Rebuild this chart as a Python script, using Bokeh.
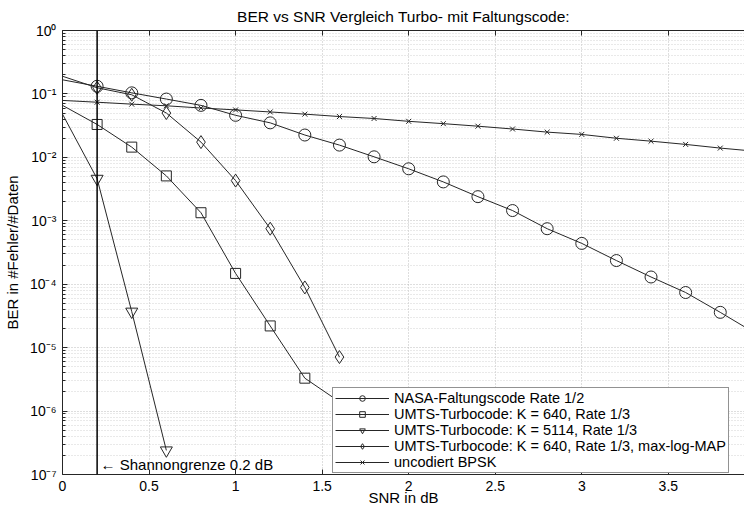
from bokeh.plotting import figure
from bokeh.models import (FixedTicker, CustomJSTickFormatter, Legend, LegendItem,
                          LinearAxis, Label, Span)
from bokeh.embed import file_html
from bokeh.resources import INLINE

# ---- data ----
snr_nasa = [0.0, 0.2, 0.4, 0.6, 0.8, 1.0, 1.2, 1.4, 1.6, 1.8, 2.0,
            2.2, 2.4, 2.6, 2.8, 3.0, 3.2, 3.4, 3.6, 3.8, 4.0]
ber_nasa = [0.167, 0.132, 0.104, 0.083, 0.066, 0.046, 0.035, 0.0225, 0.0156, 0.0102, 0.0066,
            0.0041, 0.0024, 0.00145, 0.00075, 0.00044, 0.000236, 0.00013, 0.000074, 0.000036, 0.000017]

snr_umts640 = [0.0, 0.2, 0.4, 0.6, 0.8, 1.0, 1.2, 1.4, 1.6]
ber_umts640 = [0.066, 0.033, 0.0145, 0.0051, 0.00134, 1.48e-4, 2.2e-5, 3.3e-6, 1.4e-6]

snr_umts5114 = [0.0, 0.2, 0.4, 0.6]
ber_umts5114 = [0.048, 0.0046, 3.7e-5, 2.4e-7]

snr_maxlog = [0.0, 0.2, 0.4, 0.6, 0.8, 1.0, 1.2, 1.4, 1.6]
ber_maxlog = [0.19, 0.125, 0.097, 0.050, 0.0174, 0.0043, 7.5e-4, 8.9e-5, 7.1e-6]

snr_bpsk = [0.0, 0.2, 0.4, 0.6, 0.8, 1.0, 1.2, 1.4, 1.6, 1.8, 2.0,
            2.2, 2.4, 2.6, 2.8, 3.0, 3.2, 3.4, 3.6, 3.8, 4.0]
ber_bpsk = [0.079, 0.074, 0.069, 0.065, 0.060, 0.056, 0.052, 0.048, 0.044, 0.041, 0.037,
            0.034, 0.031, 0.028, 0.025, 0.023, 0.020, 0.018, 0.016, 0.014, 0.0125]

shannon_limit = 0.2

x_ticks = [0, 0.5, 1, 1.5, 2, 2.5, 3, 3.5]
x_tick_labels = ["0", "0.5", "1", "1.5", "2", "2.5", "3", "3.5"]
y_exponents = [-7, -6, -5, -4, -3, -2, -1, 0]

labels = ["NASA-Faltungscode Rate 1/2",
          "UMTS-Turbocode: K = 640, Rate 1/3",
          "UMTS-Turbocode: K = 5114, Rate 1/3",
          "UMTS-Turbocode: K = 640, Rate 1/3, max-log-MAP",
          "uncodiert BPSK"]

FONT = "Liberation Sans"
INK = "#262626"

p = figure(width=744, height=508, y_axis_type="log",
           x_range=(0, 3.94), y_range=(1e-7, 1),
           output_backend="svg", toolbar_location=None,
           min_border_left=62, min_border_right=0, min_border_top=30, min_border_bottom=32,
           title="BER vs SNR Vergleich Turbo- mit Faltungscode:")
p.outline_line_color = None
p.background_fill_color = "white"

p.title.align = "center"
p.title.vertical_align = "top"
p.title.text_font = FONT
p.title.text_font_size = "15.5px"
p.title.text_font_style = "normal"
p.title.text_color = "black"
p.title.standoff = 8

# ticks
y_major = [10.0 ** e for e in y_exponents]
y_minor = [m * 10.0 ** e for e in y_exponents[:-1] for m in range(2, 10)]
yticker = FixedTicker(ticks=y_major, minor_ticks=y_minor)
xticker = FixedTicker(ticks=x_ticks)

sup_js = """
const sup = {"0":"\u2070","1":"\u00b9","2":"\u00b2","3":"\u00b3","4":"\u2074","5":"\u2075",
             "6":"\u2076","7":"\u2077","8":"\u2078","9":"\u2079","-":"\u207b"};
const e = Math.round(Math.log10(tick));
return "10" + String(e).split("").map(c => sup[c]).join("");
"""

for ax in p.yaxis:
    ax.ticker = yticker
    ax.formatter = CustomJSTickFormatter(code=sup_js)
for ax in p.xaxis:
    ax.ticker = xticker
    ax.major_label_overrides = {t: l for t, l in zip(x_ticks, x_tick_labels)}

for ax in list(p.xaxis) + list(p.yaxis):
    ax.axis_line_color = INK
    ax.major_tick_line_color = INK
    ax.major_tick_in = 5
    ax.major_tick_out = 0
    ax.minor_tick_in = 3
    ax.minor_tick_out = 0
    ax.major_label_text_font = FONT
    ax.major_label_text_font_size = "14px"
    ax.major_label_text_color = "black"
    ax.axis_label_text_font = FONT
    ax.axis_label_text_font_style = "normal"
    ax.axis_label_text_font_size = "15px"
    ax.axis_label_text_color = "black"
p.xaxis.minor_tick_line_color = None
p.yaxis.minor_tick_line_color = INK
p.xaxis.axis_label = "SNR in dB"
p.yaxis.axis_label = "BER in #Fehler/#Daten"
p.xaxis.major_label_standoff = 6
p.xaxis.axis_label_standoff = -5
p.yaxis.major_label_standoff = 6
p.yaxis.axis_label_standoff = 6

top_axis = LinearAxis(ticker=xticker, major_label_text_font_size="0px",
                      major_label_text_color=None,
                      major_tick_in=5, major_tick_out=0, minor_tick_line_color=None,
                      axis_line_color=INK, major_tick_line_color=INK,
                      major_label_standoff=0)
p.add_layout(top_axis, "above")

# grid
p.xgrid.ticker = xticker
p.ygrid.ticker = yticker
p.xgrid.grid_line_color = "#bdbdbd"
p.xgrid.grid_line_dash = "1 2"
p.ygrid.grid_line_color = "#bdbdbd"
p.ygrid.grid_line_dash = "1 2"
p.ygrid.minor_grid_line_color = "#d2d2d2"
p.ygrid.minor_grid_line_dash = "1 2"

# Shannon limit
p.add_layout(Span(location=shannon_limit, dimension="height", line_color="black", line_width=1.5))
p.add_layout(Label(x=shannon_limit + 0.02, y=1.43e-7, text="\u2190 Shannongrenze 0.2 dB",
                   text_font=FONT, text_font_size="15px", text_baseline="middle",
                   text_color="black"))

series = [
    (snr_nasa, ber_nasa, "circle", 12),
    (snr_umts640, ber_umts640, "square", 10),
    (snr_umts5114, ber_umts5114, "inverted_triangle", 12),
    (snr_maxlog, ber_maxlog, "diamond", 13),
    (snr_bpsk, ber_bpsk, "x", 7),
]
items = []
for (xs, ys, marker, size), lab in zip(series, labels):
    lr = p.line(xs, ys, line_color=INK, line_width=1)
    sr = p.scatter(xs[1:], ys[1:], marker=marker, size=size, line_color=INK,
                   fill_color=None, line_width=1)
    items.append(LegendItem(label=lab, renderers=[lr, sr]))

legend = Legend(items=items, location=(270, 1), margin=0, padding=2, spacing=0,
                label_height=14, glyph_height=14, glyph_width=54, label_standoff=5,
                label_text_font=FONT, label_text_font_size="14.5px", label_text_color="black",
                label_text_line_height=0.9,
                border_line_color=INK, border_line_width=1,
                background_fill_color="white", background_fill_alpha=1.0)
p.add_layout(legend, "center")

open("out.html", "w").write(file_html(p, INLINE))
